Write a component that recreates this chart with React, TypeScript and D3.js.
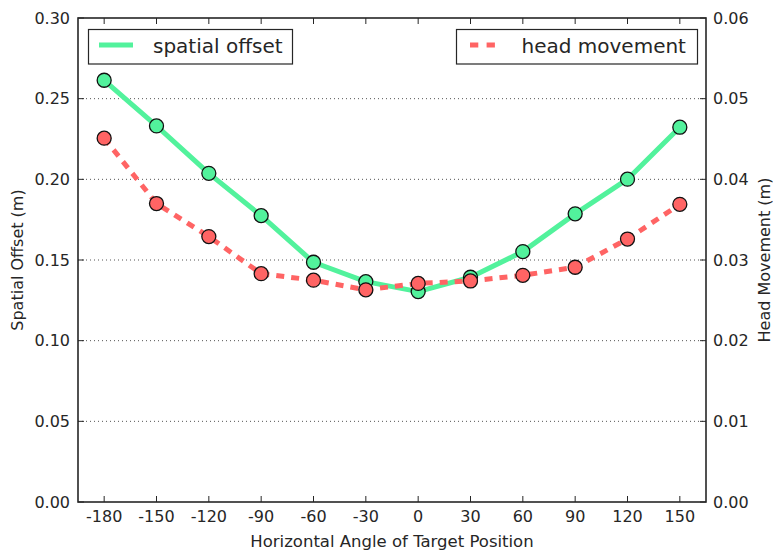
import React from "react";
import * as d3 from "d3";

// Horizontal target angles (degrees)
const angles = [-180, -150, -120, -90, -60, -30, 0, 30, 60, 90, 120, 150];
// Spatial offset (m), left axis
const spatialOffset = [0.2614, 0.2331, 0.2037, 0.1775, 0.1486, 0.1366, 0.1304, 0.1393, 0.1552, 0.1786, 0.2001, 0.2323];
// Head movement (m), right axis
const headMovement = [0.0451, 0.0370, 0.0329, 0.0283, 0.0275, 0.0263, 0.0271, 0.0274, 0.0281, 0.0291, 0.0326, 0.0369];

const leftTicks = [0, 0.05, 0.1, 0.15, 0.2, 0.25, 0.3];
const rightTicks = [0, 0.01, 0.02, 0.03, 0.04, 0.05, 0.06];

const W = 773;
const H = 551;
const M = { left: 78, right: 706, top: 18, bottom: 502 };

const GREEN = "#52f29c";
const RED = "#ff6464";
const INK = "#262626";
const FONT = "DejaVu Sans, sans-serif";

export default function App() {
  const x = d3.scaleLinear().domain([-195, 165]).range([M.left, M.right]);
  const yL = d3.scaleLinear().domain([0, 0.3]).range([M.bottom, M.top]);
  const yR = d3.scaleLinear().domain([0, 0.06]).range([M.bottom, M.top]);

  const lineL = d3
    .line<number>()
    .x((_, i) => x(angles[i]))
    .y((d) => yL(d));
  const lineR = d3
    .line<number>()
    .x((_, i) => x(angles[i]))
    .y((d) => yR(d));

  const tickLen = 6;

  return (
    <svg
      width={W}
      height={H}
      style={{ position: "absolute", left: 0, top: 0, background: "#fff" }}
      fontFamily={FONT}
    >
      {/* horizontal dotted grid */}
      {leftTicks.slice(1, -1).map((t) => (
        <line
          key={"g" + t}
          x1={M.left}
          x2={M.right}
          y1={yL(t)}
          y2={yL(t)}
          stroke="#555"
          strokeWidth={1}
          strokeDasharray="1,3"
        />
      ))}

      {/* series */}
      <path d={lineL(spatialOffset) || ""} fill="none" stroke={GREEN} strokeWidth={5} strokeLinejoin="round" />
      {spatialOffset.map((v, i) => (
        <circle key={"s" + i} cx={x(angles[i])} cy={yL(v)} r={7} fill={GREEN} stroke="#111" strokeWidth={1.3} />
      ))}
      <path d={lineR(headMovement) || ""} fill="none" stroke={RED} strokeWidth={5} strokeDasharray="8,7" />
      {headMovement.map((v, i) => (
        <circle key={"h" + i} cx={x(angles[i])} cy={yR(v)} r={7} fill={RED} stroke="#111" strokeWidth={1.3} />
      ))}

      {/* frame */}
      <rect
        x={M.left}
        y={M.top}
        width={M.right - M.left}
        height={M.bottom - M.top}
        fill="none"
        stroke={INK}
        strokeWidth={1.6}
      />

      {/* x ticks (bottom and top, inward) */}
      {angles.map((a) => (
        <g key={"x" + a}>
          <line x1={x(a)} x2={x(a)} y1={M.bottom} y2={M.bottom - tickLen} stroke={INK} strokeWidth={1} />
          <line x1={x(a)} x2={x(a)} y1={M.top} y2={M.top + tickLen} stroke={INK} strokeWidth={1} />
          <text x={x(a)} y={516} textAnchor="middle" dominantBaseline="central" fontSize={16} fill={INK}>
            {a}
          </text>
        </g>
      ))}

      {/* left y ticks */}
      {leftTicks.map((t) => (
        <g key={"l" + t}>
          <line x1={M.left} x2={M.left + tickLen} y1={yL(t)} y2={yL(t)} stroke={INK} strokeWidth={1} />
          <text x={70} y={yL(t)} textAnchor="end" dominantBaseline="central" fontSize={16} fill={INK}>
            {t.toFixed(2)}
          </text>
        </g>
      ))}

      {/* right y ticks */}
      {rightTicks.map((t) => (
        <g key={"r" + t}>
          <line x1={M.right} x2={M.right - tickLen} y1={yR(t)} y2={yR(t)} stroke={INK} strokeWidth={1} />
          <text x={713} y={yR(t)} textAnchor="start" dominantBaseline="central" fontSize={16} fill={INK}>
            {t.toFixed(2)}
          </text>
        </g>
      ))}

      {/* axis titles */}
      <text x={392} y={541} textAnchor="middle" dominantBaseline="central" fontSize={16.5} fill={INK}>
        Horizontal Angle of Target Position
      </text>
      <text
        transform={`translate(17,${(M.top + M.bottom) / 2}) rotate(-90)`}
        textAnchor="middle"
        dominantBaseline="central"
        fontSize={16}
        fill={INK}
      >
        Spatial Offset (m)
      </text>
      <text
        transform={`translate(764,${(M.top + M.bottom) / 2}) rotate(-90)`}
        textAnchor="middle"
        dominantBaseline="central"
        fontSize={16}
        fill={INK}
      >
        Head Movement (m)
      </text>

      {/* legends */}
      <rect x={88.5} y={29.5} width={204} height={34.5} fill="#fff" stroke={INK} strokeWidth={1.2} />
      <line x1={99} x2={133} y1={45} y2={45} stroke={GREEN} strokeWidth={5} />
      <text x={153} y={46} dominantBaseline="central" fontSize={20} fill={INK}>
        spatial offset
      </text>

      <rect x={456.5} y={29.5} width={241} height={34.5} fill="#fff" stroke={INK} strokeWidth={1.2} />
      <line x1={470} x2={495} y1={45} y2={45} stroke={RED} strokeWidth={5} strokeDasharray="8.3,8.3" />
      <text x={521.5} y={46} dominantBaseline="central" fontSize={20} fill={INK}>
        head movement
      </text>
    </svg>
  );
}
